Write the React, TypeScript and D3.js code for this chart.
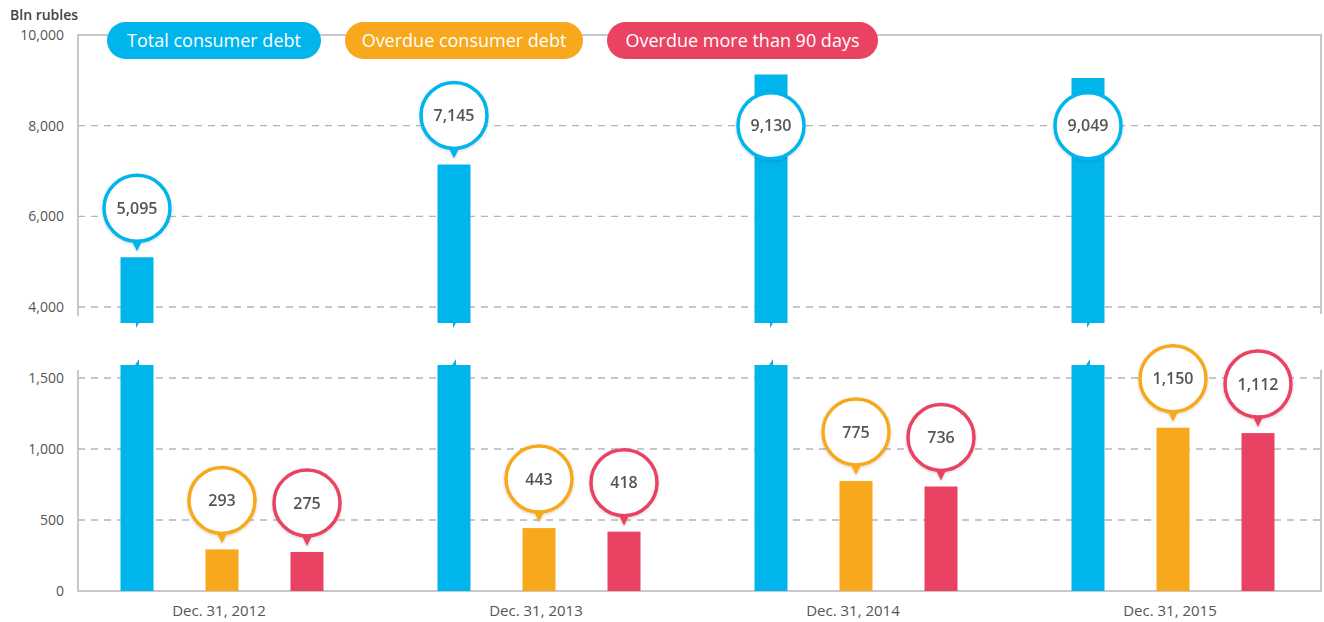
import React from "react";
import * as d3 from "d3";

const categories = ["Dec. 31, 2012", "Dec. 31, 2013", "Dec. 31, 2014", "Dec. 31, 2015"];
const seriesNames = ["Total consumer debt", "Overdue consumer debt", "Overdue more than 90 days"];
const totalDebt = [5095, 7145, 9130, 9049];
const overdueDebt = [293, 443, 775, 1150];
const overdue90 = [275, 418, 736, 1112];
const topTicks = [10000, 8000, 6000, 4000];
const bottomTicks = [1500, 1000, 500, 0];
const colors = ["#00b5eb", "#f7a81c", "#ea4262"];

const W = 1324;
const H = 622;
const FONT = "'Open Sans', 'Noto Sans', sans-serif";

export default function App() {
  const left = 78;
  const right = 1321;
  const yTop = d3.scaleLinear().domain([4000, 10000]).range([307, 35]);
  const yBot = d3.scaleLinear().domain([0, 1500]).range([591, 378]);
  const x0 = d3.scaleBand<string>().domain(categories).range([63.5, 1331.5]);
  const xs = d3.scalePoint<string>().domain(seriesNames).range([-85, 85]);
  const fmt = d3.format(",");
  const bw = 33;
  const R = 33;
  const topBreak = 323;
  const botBreak = 365;

  const cx = (c: string, s: string) => (x0(c) as number) + x0.bandwidth() / 2 + (xs(s) as number);

  const bubble = (x: number, yTopOfBar: number, v: number, color: string, key: string, forceY?: number) => {
    const hasPointer = forceY === undefined;
    const cy = hasPointer ? yTopOfBar - 49 : forceY!;
    return (
      <g key={key} filter="url(#sh)">
        {hasPointer && (
          <path
            d={`M${x - 6},${cy + R - 2} L${x},${yTopOfBar - 6} L${x + 6},${cy + R - 2} Z`}
            fill={color}
          />
        )}
        <circle cx={x} cy={cy} r={R} fill="#fff" stroke={color} strokeWidth={3.5} />
        <text
          x={x}
          y={cy}
          dy="0.36em"
          textAnchor="middle"
          fontFamily={FONT}
          fontSize={16}
          fontWeight={600}
          fill="#555"
        >
          {fmt(v)}
        </text>
      </g>
    );
  };

  const legendLayout = [
    { x: 107, w: 214 },
    { x: 345, w: 238 },
    { x: 607, w: 271 },
  ];

  return (
    <svg width={W} height={H} style={{ position: "absolute", left: 0, top: 0, background: "#fff" }}>
      <defs>
        <filter id="sh" x="-30%" y="-30%" width="160%" height="160%">
          <feDropShadow dx="0" dy="1" stdDeviation="1.5" floodColor="#000" floodOpacity="0.18" />
        </filter>
      </defs>
      <text x={10} y={20} fontFamily={FONT} fontSize={14} fill="#444" fontWeight={600}>
        Bln rubles
      </text>

      {/* frame top panel */}
      <path d={`M${left},316 V${yTop(10000)} H${right} V314`} fill="none" stroke="#c8c8c8" strokeWidth={2} />
      {/* frame bottom panel */}
      <path d={`M${left},370 V${yBot(0)} H${right} V370`} fill="none" stroke="#c8c8c8" strokeWidth={2} />

      {/* gridlines */}
      {topTicks.filter((t) => t !== 10000).map((t) => (
        <line key={"gt" + t} x1={left} x2={right} y1={yTop(t)} y2={yTop(t)} stroke="#b5b5b5" strokeWidth={1.3} strokeDasharray="7,6" />
      ))}
      {bottomTicks.filter((t) => t !== 0).map((t) => (
        <line key={"gb" + t} x1={left} x2={right} y1={yBot(t)} y2={yBot(t)} stroke="#b5b5b5" strokeWidth={1.3} strokeDasharray="7,6" />
      ))}

      {/* tick labels */}
      {topTicks.map((t) => (
        <text key={"tt" + t} x={64} y={yTop(t)} dy="0.35em" textAnchor="end" fontFamily={FONT} fontSize={14} fill="#555">
          {fmt(t)}
        </text>
      ))}
      {bottomTicks.map((t) => (
        <text key={"tb" + t} x={64} y={yBot(t)} dy="0.35em" textAnchor="end" fontFamily={FONT} fontSize={14} fill="#555">
          {fmt(t)}
        </text>
      ))}

      {/* total debt bars (broken) */}
      {categories.map((c, i) => {
        const x = cx(c, seriesNames[0]);
        const x1 = x - bw / 2;
        const x2 = x + bw / 2;
        const yt = yTop(totalDebt[i]);
        const top = `M${x1},${yt} H${x2} V${topBreak} H${x + 2} L${x - 1},${topBreak + 5} L${x - 1},${topBreak} H${x1} Z`;
        const bot = `M${x1},${yBot(0)} V${botBreak} H${x - 2} L${x + 2},${botBreak - 6} L${x + 2},${botBreak} H${x2} V${yBot(0)} Z`;
        return (
          <g key={"tb" + c}>
            <path d={top} fill={colors[0]} />
            <path d={bot} fill={colors[0]} />
          </g>
        );
      })}

      {/* overdue bars */}
      {categories.map((c, i) => (
        <g key={"ob" + c}>
          <rect x={cx(c, seriesNames[1]) - bw / 2} y={yBot(overdueDebt[i])} width={bw} height={yBot(0) - yBot(overdueDebt[i])} fill={colors[1]} />
          <rect x={cx(c, seriesNames[2]) - bw / 2} y={yBot(overdue90[i])} width={bw} height={yBot(0) - yBot(overdue90[i])} fill={colors[2]} />
        </g>
      ))}

      {/* bubbles */}
      {categories.map((c, i) => {
        const yt = yTop(totalDebt[i]);
        const inside = yt - 49 - R < 40;
        return bubble(cx(c, seriesNames[0]), yt, totalDebt[i], colors[0], "bt" + c, inside ? yTop(8000) : undefined);
      })}
      {categories.map((c, i) => bubble(cx(c, seriesNames[1]), yBot(overdueDebt[i]), overdueDebt[i], colors[1], "bo" + c))}
      {categories.map((c, i) => bubble(cx(c, seriesNames[2]), yBot(overdue90[i]), overdue90[i], colors[2], "br" + c))}

      {/* category labels */}
      {categories.map((c) => (
        <text key={"cl" + c} x={(x0(c) as number) + x0.bandwidth() / 2 - 3} y={611} dy="0.35em" textAnchor="middle" fontFamily={FONT} fontSize={15} fill="#555">
          {c}
        </text>
      ))}

      {/* legend */}
      {seriesNames.map((s, i) => (
        <g key={"lg" + s}>
          <rect x={legendLayout[i].x} y={22} width={legendLayout[i].w} height={37} rx={18.5} fill={colors[i]} />
          <text x={legendLayout[i].x + legendLayout[i].w / 2} y={40.5} dy="0.35em" textAnchor="middle" fontFamily={FONT} fontSize={18} fill="#fff">
            {s}
          </text>
        </g>
      ))}
    </svg>
  );
}
